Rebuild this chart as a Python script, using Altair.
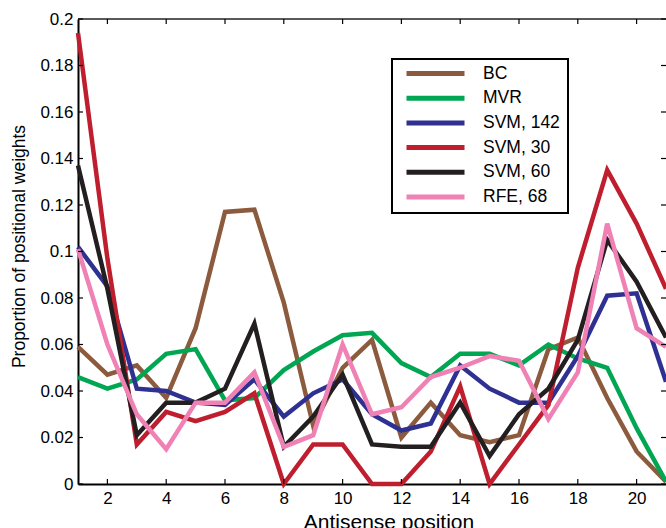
import altair as alt
import pandas as pd

positions = list(range(1, 22))
names = ["BC", "MVR", "SVM, 142", "SVM, 30", "SVM, 60", "RFE, 68"]
colors = ["#8c5b3e", "#00a651", "#2e3192", "#be1e2d", "#231f20", "#f081b4"]

bc = [0.059, 0.047, 0.051, 0.037, 0.067, 0.117, 0.118, 0.078, 0.025, 0.050, 0.062,
      0.020, 0.035, 0.021, 0.018, 0.021, 0.058, 0.063, 0.037, 0.014, 0.001]
mvr = [0.046, 0.041, 0.045, 0.056, 0.058, 0.036, 0.037, 0.049, 0.057, 0.064, 0.065,
       0.052, 0.046, 0.056, 0.056, 0.051, 0.060, 0.054, 0.050, 0.024, 0.001]
svm142 = [0.102, 0.085, 0.041, 0.040, 0.035, 0.034, 0.045, 0.029, 0.039, 0.045, 0.030,
          0.023, 0.026, 0.051, 0.041, 0.035, 0.035, 0.055, 0.081, 0.082, 0.044]
svm30 = [0.194, 0.097, 0.017, 0.031, 0.027, 0.031, 0.039, 0.000, 0.017, 0.017, 0.000,
         0.000, 0.014, 0.042, 0.000, 0.017, 0.034, 0.093, 0.135, 0.112, 0.084]
svm60 = [0.137, 0.084, 0.021, 0.035, 0.035, 0.041, 0.069, 0.016, 0.029, 0.047, 0.017,
         0.016, 0.016, 0.035, 0.012, 0.030, 0.041, 0.062, 0.105, 0.087, 0.063]
rfe68 = [0.101, 0.060, 0.030, 0.015, 0.035, 0.035, 0.048, 0.016, 0.021, 0.060, 0.030,
         0.033, 0.046, 0.050, 0.055, 0.053, 0.028, 0.048, 0.112, 0.067, 0.059]

x_ticks = [2, 4, 6, 8, 10, 12, 14, 16, 18, 20]
y_ticks = [0, 0.02, 0.04, 0.06, 0.08, 0.1, 0.12, 0.14, 0.16, 0.18, 0.2]

series = [bc, mvr, svm142, svm30, svm60, rfe68]
rows = []
for name, vals in zip(names, series):
    for p, v in zip(positions, vals):
        rows.append({"method": name, "position": p, "weight": v})
df = pd.DataFrame(rows)

W, H = 588, 465
FONT = "Liberation Sans"

x_scale = alt.Scale(domain=[1, 21], nice=False, zero=False)
y_scale = alt.Scale(domain=[0, 0.2], nice=False)

x_axis = alt.Axis(values=x_ticks, title="Antisense position",
                  titleX=310.5, titleY=44, titleBaseline="alphabetic",
                  titleFontSize=21, labelPadding=6.5)
y_axis = alt.Axis(values=y_ticks, format="~g",
                  title="Proportion of positional weights",
                  titleX=-54, titleY=227, titleAngle=270,
                  titleAlign="center", titleBaseline="alphabetic",
                  titleFontSize=17.5, labelPadding=5)

lines = alt.Chart(df).mark_line(strokeWidth=4.5).encode(
    x=alt.X("position:Q", scale=x_scale, axis=x_axis),
    y=alt.Y("weight:Q", scale=y_scale, axis=y_axis),
    color=alt.Color("method:N", scale=alt.Scale(domain=names, range=colors),
                    legend=alt.Legend(title=None, orient="none", legendX=314, legendY=40,
                                      symbolType="stroke", symbolSize=3364,
                                      symbolStrokeWidth=5, clipHeight=14, rowPadding=6.7,
                                      padding=7.5, symbolOffset=4.5, labelOffset=16,
                                      labelFont=FONT, labelFontSize=17.5,
                                      labelColor="black", strokeColor="black",
                                      fillColor="white",
                                      labelExpr="datum.label + '\u00a0\u00a0\u00a0'")),
)

xt = pd.DataFrame({"position": x_ticks})
yt = pd.DataFrame({"weight": y_ticks})
tick_style = dict(color="black", strokeWidth=1.2)

tick_bottom = alt.Chart(xt).mark_rule(**tick_style).encode(
    x=alt.X("position:Q", scale=x_scale, axis=x_axis), y=alt.value(H), y2=alt.value(H - 5))
tick_top = alt.Chart(xt).mark_rule(**tick_style).encode(
    x=alt.X("position:Q", scale=x_scale, axis=x_axis), y=alt.value(0), y2=alt.value(5))
tick_left = alt.Chart(yt).mark_rule(**tick_style).encode(
    y=alt.Y("weight:Q", scale=y_scale, axis=y_axis), x=alt.value(0), x2=alt.value(5))
tick_right = alt.Chart(yt).mark_rule(**tick_style).encode(
    y=alt.Y("weight:Q", scale=y_scale, axis=y_axis), x=alt.value(W - 5), x2=alt.value(W))
top_border = alt.Chart(pd.DataFrame({"a": [0]})).mark_rule(color="#222", strokeWidth=1.5).encode(
    x=alt.value(0), x2=alt.value(W), y=alt.value(0))

chart = alt.layer(lines, top_border, tick_bottom, tick_top, tick_left, tick_right).properties(
    width=W, height=H,
    autosize=alt.AutoSizeParams(type="none"),
    padding={"left": 78, "top": 19, "right": 0, "bottom": 44},
    background="white",
).configure_view(stroke=None).configure_axis(
    domainColor="black", domainWidth=2, grid=False, tickSize=0,
    labelFont=FONT, labelFontSize=17, labelColor="black",
    titleFont=FONT, titleColor="black", titleFontWeight="normal",
).configure_legend(strokeWidth=2)

chart.save("out.html", embed_options={"renderer": "svg", "actions": False})
